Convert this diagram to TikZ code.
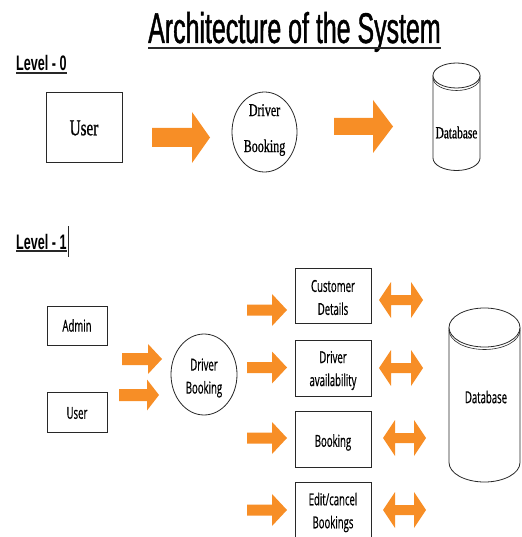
\documentclass[tikz,border=0pt]{standalone}
\usepackage{fontspec}
\usetikzlibrary{shapes.geometric}
\newfontfamily\titlefont[FakeStretch=0.58,FakeBold=1]{Liberation Sans}
\newfontfamily\levelfont[FakeStretch=0.6]{Liberation Sans}
\newfontfamily\serifn[FakeStretch=0.67,FakeBold=0.8]{Liberation Serif}
\newfontfamily\sansn[FakeStretch=0.58,FakeBold=0.6]{Open Sans}
\definecolor{arroworange}{RGB}{247,142,38}
\definecolor{lineg}{RGB}{40,40,40}
\begin{document}
\begin{tikzpicture}[x=1pt,y=-1pt,
  box/.style={draw=lineg, line width=0.8pt, inner sep=0pt},
  oval/.style={ellipse, draw=lineg, line width=0.8pt, inner sep=0pt},
  txt/.style={inner sep=0pt, align=center},
  blockarrow/.style={fill=arroworange, draw=none},
  cyl/.style={draw=lineg, line width=0.8pt, fill=white},
  serif0/.style={font=\serifn\fontsize{#1}{36}\selectfont},
  sans1/.style={font=\sansn\fontsize{16.5}{23}\selectfont},
  levelbox/.style={anchor=base west, inner sep=0pt, font=\levelfont\bfseries\fontsize{21}{24}\selectfont},
  pics/rarr/.style n args={4}{code={\fill[blockarrow] (0,-#3) -- (#2,-#3) -- (#2,-#4) -- (#1,0) -- (#2,#4) -- (#2,#3) -- (0,#3) -- cycle;}},
  pics/darr/.style n args={4}{code={\fill[blockarrow] (0,0) -- (#2,-#4) -- (#2,-#3) -- ({#1-#2},-#3) -- ({#1-#2},-#4) -- (#1,0) -- ({#1-#2},#4) -- ({#1-#2},#3) -- (#2,#3) -- (#2,#4) -- cycle;}},
]
\useasboundingbox (0,0) rectangle (521,537);

% title
\node[anchor=base west, inner sep=0pt, font=\titlefont\fontsize{43}{50}\selectfont] (title) at (148,43) {Architecture of the System};
\draw[line width=2.2pt, lineg] ([yshift=-5pt]title.base west) -- ([yshift=-5pt]title.base east);

% level 0
\node[levelbox] (lvl0) at (16,71) {Level - 0};
\draw[line width=1.5pt, lineg] ([yshift=-2pt]lvl0.base west) -- ([yshift=-2pt]lvl0.base east);

\node[box, minimum width=76pt, minimum height=70pt] (user0) at (84,127) {};
\node[txt, serif0=22.6] (user0t) at ([yshift=-1pt]user0.center) {User};
\node[oval, minimum width=65pt, minimum height=80pt] (drv0) at (264.5,132) {};
\node[txt, serif0=18] (drv0t) at ([yshift=2pt]drv0.center) {Driver\\Booking};

\path[cyl] (433,75.5) -- (433,158) arc[start angle=180, end angle=0, x radius=23.5, y radius=12.5] -- (480,75.5);
\draw[cyl] (456.5,75.5) ellipse[x radius=23.5, y radius=12.5];
\draw[lineg, line width=0.6pt] (433,78) arc[start angle=180, end angle=0, x radius=23.5, y radius=12.5];
\node[txt, font=\serifn\fontsize{17}{20}\selectfont] (db0) at (456.5,132.5) {Database};

\pic at (152,137.5) {rarr={58}{40}{9.5}{25.5}};
\pic at (334,126.5) {rarr={59}{39}{8.5}{26.5}};

% level 1
\node[levelbox] (lvl1) at (16,249) {Level - 1};
\draw[line width=1.5pt, lineg] ([yshift=-2pt]lvl1.base west) -- ([yshift=-2pt]lvl1.base east);
\coordinate (cur) at ([xshift=1.5pt]lvl1.base east);
\draw[line width=0.7pt, lineg] ([yshift=23pt]cur) -- ([yshift=-8pt]cur);

\node[box, minimum width=60pt, minimum height=39pt] (admin) at (77,325.5) {};
\node[txt, sans1] (admint) at (admin.center) {Admin};
\node[box, minimum width=60pt, minimum height=40pt] (user1) at (77,412) {};
\node[txt, sans1] (user1t) at ([yshift=-1pt]user1.center) {User};
\node[oval, minimum width=66pt, minimum height=81pt] (drv1) at (204,374.5) {};
\node[txt, sans1] (drv1t) at ([yshift=-3.5pt]drv1.center) {Driver\\Booking};

\pic at (122,359) {rarr={40}{26}{6}{15}};
\pic at (119,395) {rarr={40}{28}{6}{15.5}};

\node[box, minimum width=76pt, minimum height=55pt] (cust) at (333,295.5) {};
\node[txt, sans1] (custt) at ([yshift=-2pt]cust.center) {Customer\\Details};
\node[box, minimum width=76pt, minimum height=56pt] (avail) at (333,368) {};
\node[txt, sans1] (availt) at ([yshift=-2.5pt]avail.center) {Driver\\availability};
\node[box, minimum width=76pt, minimum height=56pt] (book) at (333,439) {};
\node[txt, sans1] (bookt) at ([yshift=-3.5pt]book.center) {Booking};
\node[box, minimum width=76pt, minimum height=58pt] (edit) at (333,511) {};
\node[txt, sans1] (editt) at ([yshift=-1.5pt]edit.center) {Edit/cancel\\Bookings};

\pic at (247,310) {rarr={40}{25}{5.5}{16}};
\pic at (247,367.5) {rarr={40}{25}{5.5}{16}};
\pic at (247,438) {rarr={40}{25}{5.5}{16}};
\pic at (247,510) {rarr={40}{25}{5.5}{16}};

\pic at (379,300) {darr={44}{12}{5}{18}};
\pic at (379,368) {darr={44}{12}{5}{18}};
\pic at (383,438) {darr={43}{12}{5}{18}};
\pic at (383,510) {darr={43}{12}{5}{18}};

\path[cyl] (449,327.5) -- (449,462.5) arc[start angle=180, end angle=0, x radius=35.5, y radius=19.5] -- (520,327.5);
\draw[cyl] (484.5,327.5) ellipse[x radius=35.5, y radius=19.5];
\draw[lineg, line width=0.6pt] (449,330) arc[start angle=180, end angle=0, x radius=35.5, y radius=19.5];
\node[txt, sans1] (db1) at (486,397) {Database};
\end{tikzpicture}
\end{document}
